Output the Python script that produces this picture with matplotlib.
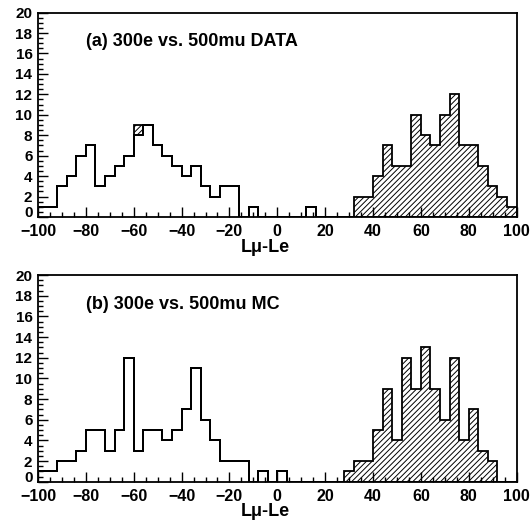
import numpy as np
import matplotlib
matplotlib.use("Agg")
import matplotlib.pyplot as plt
import matplotlib.transforms as mtransforms
from matplotlib.ticker import MultipleLocator

plt.rcParams['font.family'] = ['Liberation Sans', 'DejaVu Sans']
plt.rcParams['font.weight'] = 'bold'
plt.rcParams['hatch.linewidth'] = 0.7

bin_edges = np.arange(-100, 101, 4)

# panel (a) DATA  (50 bins of width 4 from -100)
e_a = [1, 1, 3, 4, 6, 7, 3, 4, 5, 6,
       8, 9, 7, 6, 5, 4, 5, 3, 2, 3,
       3, 0, 1, 0, 0, 0, 0, 0, 1, 0,
       0, 0, 0, 0, 0, 0, 0, 0, 0, 0,
       0, 0, 0, 0, 0, 0, 0, 0, 0, 0]
mu_a = [0, 0, 0, 0, 0, 0, 0, 0, 0, 0,
        1, 0, 0, 0, 0, 0, 0, 0, 0, 0,
        0, 0, 0, 0, 0, 0, 0, 0, 0, 0,
        0, 0, 0, 2, 2, 4, 7, 5, 5, 10,
        8, 7, 10, 12, 7, 7, 5, 3, 2, 1]
# panel (b) MC
e_b = [1, 1, 2, 2, 3, 5, 5, 3, 5, 12,
       3, 5, 5, 4, 5, 7, 11, 6, 4, 2,
       2, 2, 0, 1, 0, 1, 0, 0, 0, 0,
       0, 0, 0, 0, 0, 0, 0, 0, 0, 0,
       0, 0, 0, 0, 0, 0, 0, 0, 0, 0]
mu_b = [0, 0, 0, 0, 0, 0, 0, 0, 0, 0,
        0, 0, 0, 0, 0, 0, 0, 0, 0, 0,
        0, 0, 0, 0, 0, 0, 0, 0, 0, 0,
        0, 0, 1, 2, 2, 5, 9, 4, 12, 9,
        13, 9, 6, 12, 4, 7, 3, 2, 0, 0]

titles = ["(a) 300e vs. 500mu DATA", "(b) 300e vs. 500mu MC"]
xlabel = "L\u03bc-Le"
x_ticks = list(range(-100, 101, 20))
y_ticks = list(range(0, 21, 2))

fig = plt.figure(figsize=(5.30, 5.23), dpi=100)
positions = [[0.0717, 0.585, 0.903, 0.391], [0.0717, 0.079, 0.903, 0.395]]

for pos, e, mu, title in zip(positions, [e_a, e_b], [mu_a, mu_b], titles):
    ax = fig.add_axes(pos)
    e = np.array(e, dtype=float)
    mu = np.array(mu, dtype=float)
    ax.stairs(mu + e, bin_edges, baseline=e, fill=True, facecolor='white',
              edgecolor='black', hatch='//////', linewidth=0)
    ax.stairs(mu + e, bin_edges, baseline=e, fill=False, color='black', linewidth=1.3)
    ax.stairs(e, bin_edges, baseline=0, fill=False, color='black', linewidth=1.3)
    ax.set_xlim(-100, 100)
    ax.set_ylim(0, 20)
    ax.set_xticks(x_ticks)
    ax.set_yticks(y_ticks)
    ax.xaxis.set_minor_locator(MultipleLocator(5))
    ax.yaxis.set_minor_locator(MultipleLocator(0.5))
    ax.tick_params(which='both', direction='in', top=False, right=False, width=1.0)
    ax.tick_params(axis='x', labelsize=11.5, pad=5)
    ax.tick_params(axis='y', labelsize=11, pad=4)
    ax.tick_params(which='major', length=7)
    ax.tick_params(which='minor', length=3.5)
    for lab in ax.get_xticklabels() + ax.get_yticklabels():
        lab.set_fontweight('bold')
    zero_lab = ax.yaxis.get_major_ticks()[0].label1
    zero_lab.set_transform(zero_lab.get_transform() +
                           mtransforms.ScaledTranslation(0, 4 / 72, fig.dpi_scale_trans))
    for sp in ax.spines.values():
        sp.set_linewidth(1.3)
    ax.text(0.1, 0.86, title, transform=ax.transAxes, fontsize=13,
            fontweight='bold', ha='left', va='center')
    ax.set_xlabel(xlabel, fontsize=13, fontweight='bold')
    ax.xaxis.set_label_coords(0.476, -0.105)

fig.savefig("out.png", dpi=100)
